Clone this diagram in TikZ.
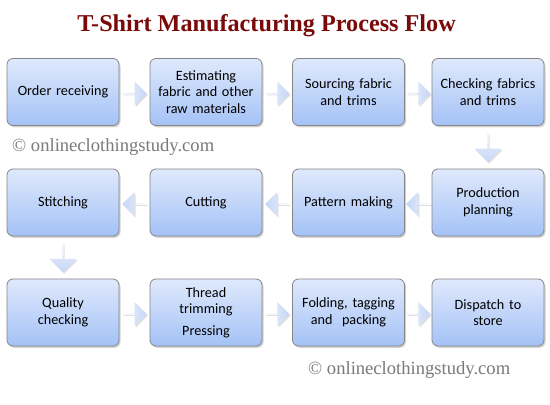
\documentclass[tikz,border=0pt]{standalone}
\usepackage{fontspec}
\setmainfont{Carlito}
\newfontfamily\serifT{Liberation Serif}
\usetikzlibrary{shapes.arrows,shadows,calc}
\definecolor{titlered}{HTML}{7A0A0A}
\definecolor{boxtop}{HTML}{DFE9FC}
\definecolor{boxbot}{HTML}{A4C2F6}
\definecolor{boxline}{HTML}{858585}
\definecolor{arrlight}{HTML}{EEF3FD}
\definecolor{arrdark}{HTML}{C6D6F7}
\definecolor{wmgray}{HTML}{7A7A7A}
\begin{document}
\begin{tikzpicture}[x=1pt,y=-1pt,
  stepbox/.style={draw=boxline, line width=0.8pt, rounded corners=6pt,
    top color=boxtop, bottom color=boxbot,
    minimum width=112pt, minimum height=67pt, text width=110pt,
    align=center, font=\fontsize{14.2}{16.5}\selectfont, text=black, inner sep=1pt,
    drop shadow={opacity=0.35, shadow xshift=1.5pt, shadow yshift=-1.8pt}},
  blockarrow/.style={single arrow, draw=none, inner sep=0pt,
    single arrow tip angle=90,
    drop shadow={opacity=0.25, shadow xshift=1.2pt, shadow yshift=-1.5pt}},
  harrow/.style={blockarrow, minimum height=24pt, minimum width=24pt,
    single arrow head extend=6pt},
  rarrow/.style={harrow, left color=arrlight, right color=arrdark},
  larrow/.style={harrow, shape border rotate=180, left color=arrdark, right color=arrlight},
  darrow/.style={blockarrow, minimum height=29pt, minimum width=27pt,
    single arrow head extend=5pt, shape border rotate=270,
    top color=arrlight, bottom color=arrdark},
  watermark/.style={font=\serifT\fontsize{18.6}{20}\selectfont, text=wmgray, anchor=base west, inner sep=0pt},
]
\useasboundingbox (0,0) rectangle (550,405);
\fill[white] (0,0) rectangle (550,405);

\node[font=\serifT\bfseries\fontsize{24.2}{28}\selectfont, text=titlered, anchor=base, inner sep=0pt]
  (title) at (266.5,31) {T-Shirt Manufacturing Process Flow};

% Row 1
\node[stepbox] (b1) at (63,92) {Order receiving};
\node[stepbox] (b2) at (206,92) {Estimating\\fabric and other\\raw materials};
\node[stepbox] (b3) at (348.5,92) {Sourcing fabric\\and trims};
\node[stepbox] (b4) at (488,92) {Checking fabrics\\and trims};
% Row 2
\node[stepbox] (b5) at (488,202.5) {Production\\planning};
\node[stepbox] (b6) at (348.5,202.5) {Pattern making};
\node[stepbox] (b7) at (206,202.5) {Cutting};
\node[stepbox] (b8) at (63,202.5) {Stitching};
% Row 3
\node[stepbox] (b9) at (63,312.5) {Quality\\checking};
\node[stepbox] (b10) at (206,312.5) {Thread\\trimming\\[5pt]Pressing};
\node[stepbox] (b11) at (348.5,312.5) {Folding, tagging\\and~ packing};
\node[stepbox] (b12) at (488,312.5) {Dispatch to\\store};

% Arrows
\node[rarrow] (a1) at ($(b1.east)!0.5!(b2.west)+(0,1.5)$) {};
\node[rarrow] (a2) at ($(b2.east)!0.5!(b3.west)+(0,1.5)$) {};
\node[rarrow] (a3) at ($(b3.east)!0.5!(b4.west)+(0,1.5)$) {};
\node[darrow] (a4) at ($(b4.south)!0.5!(b5.north)$) {};
\node[larrow] (a5) at ($(b5.west)!0.5!(b6.east)+(0,1.5)$) {};
\node[larrow] (a6) at ($(b6.west)!0.5!(b7.east)+(0,1.5)$) {};
\node[larrow] (a7) at ($(b7.west)!0.5!(b8.east)+(0,1.5)$) {};
\node[darrow] (a8) at ($(b8.south)!0.5!(b9.north)$) {};
\node[rarrow] (a9) at ($(b9.east)!0.5!(b10.west)+(0,1.5)$) {};
\node[rarrow] (a10) at ($(b10.east)!0.5!(b11.west)+(0,1.5)$) {};
\node[rarrow] (a11) at ($(b11.east)!0.5!(b12.west)+(0,1.5)$) {};

% Watermarks
\node[watermark] (w1) at (12,151) {© onlineclothingstudy.com};
\node[watermark] (w2) at (308,374) {© onlineclothingstudy.com};
\end{tikzpicture}
\end{document}
